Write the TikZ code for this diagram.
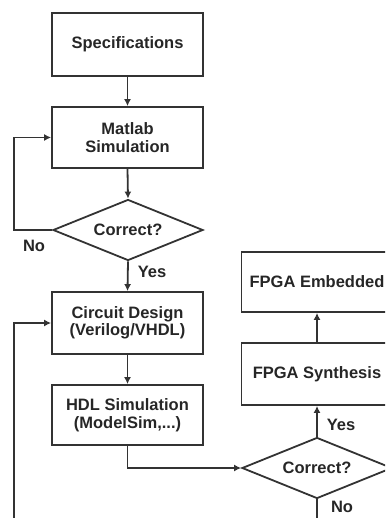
\documentclass[tikz,border=0pt]{standalone}
\usepackage{fontspec}
\setmainfont{Liberation Sans}
\usetikzlibrary{shapes.geometric,arrows.meta}
\begin{document}
\begin{tikzpicture}[x=1pt,y=-1pt,
  every node/.style={font=\fontsize{16.5}{17.5}\selectfont\bfseries, text=black!85},
  box/.style={draw=black!80, line width=1.8pt, minimum width=151pt, align=center, inner sep=0pt},
  dia/.style={draw=black!80, line width=1.8pt, diamond, minimum width=150pt, minimum height=61pt, inner sep=0pt, aspect=2.5},
  arr/.style={draw=black!80, line width=1.8pt, -{Latex[length=7pt,width=7pt]}},
  lab/.style={inner sep=0pt}]
\useasboundingbox (0,0) rectangle (385,518);
\clip (0,0) rectangle (385,518);
\node[box, minimum height=63pt] (spec) at (127.5,44.5) {Specifications};
\node[box, minimum height=61pt] (matlab) at (127.5,137.5) {Matlab\\Simulation};
\node[dia] (d1) at (128,230) {Correct?};
\node[box, minimum height=62pt] (circ) at (127.5,323) {Circuit Design\\(Verilog/VHDL)};
\node[box, minimum height=60pt] (hdl) at (127.5,415) {HDL Simulation\\(ModelSim,...)};
\node[dia] (d2) at (317,468) {Correct?};
\node[box, minimum height=62pt] (synth) at (317,374) {FPGA Synthesis};
\node[box, minimum height=60pt] (emb) at (317,282) {FPGA Embedded};
\coordinate (l1) at (14,230);
\coordinate (b1) at (317,522);
\coordinate (b2) at (14,522);
\node[lab] (no1) at (34,246) {No};
\node[lab] (yes1) at (152,272) {Yes};
\node[lab] (yes2) at (341,425) {Yes};
\node[lab] (no2) at (342,507) {No};
\draw[arr] (spec.south) -- (matlab.north);
\draw[arr] (matlab.south) -- (d1.north);
\draw[arr] (d1.west) -- (l1) |- (matlab.west);
\draw[arr] (d1.south) -- (circ.north);
\draw[arr] (circ.south) -- (hdl.north);
\draw[arr] (hdl.south) |- (d2.west);
\draw[arr] (d2.north) -- (synth.south);
\draw[arr] (synth.north) -- (emb.south);
\draw[arr] (d2.south) -- (b1) -- (b2) |- (circ.west);
\end{tikzpicture}
\end{document}
